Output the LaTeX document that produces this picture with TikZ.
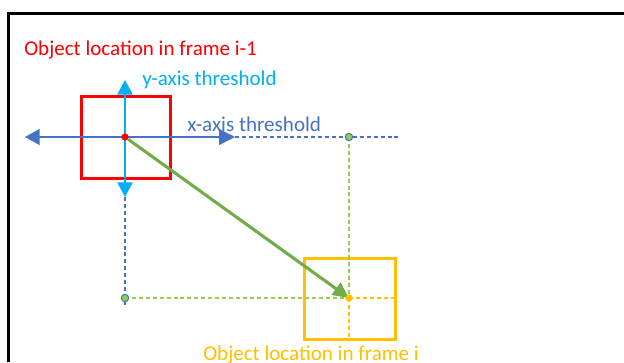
\documentclass[tikz,border=0pt]{standalone}
\usepackage{fontspec}
\setmainfont{Carlito}
\usetikzlibrary{arrows.meta}
\definecolor{objred}{HTML}{FF0000}
\definecolor{ylight}{HTML}{00B0F0}
\definecolor{xblue}{HTML}{4472C4}
\definecolor{mgreen}{HTML}{70AD47}
\definecolor{lgreen}{HTML}{92D050}
\definecolor{objyellow}{HTML}{FFC000}
\tikzset{
  label text/.style={font=\fontsize{15.8}{18}\selectfont, inner sep=0pt, anchor=base west},
  guide/.style={line width=0.8pt, dash pattern=on 3pt off 2.2pt},
  pointdot/.style={circle, inner sep=0pt, minimum size=5.5pt},
  framebox/.style={line width=2.25pt, inner sep=0pt},
}
\begin{document}
\begin{tikzpicture}[x=0.75pt, y=-0.75pt]
\useasboundingbox (0,0) rectangle (624,362);
\fill[white] (0,0) rectangle (624,362);
% outer frame (top and left edges visible)
\draw[line width=2.25pt] (8.5,362) -- (8.5,13.5) -- (624,13.5);

% key positions
\coordinate (prev) at (125,137);
\coordinate (cur) at (349,298);
\coordinate (xl) at (25,137);
\coordinate (xr) at (235,137);
\coordinate (xend) at (398,137);
\coordinate (yt) at (125,80);
\coordinate (yb) at (125,197);
\coordinate (yend) at (125,307);

% object boxes
\node[framebox, draw=objred, minimum width=66.75pt, minimum height=61.5pt] (redbox) at (126,137.5) {};
\node[framebox, draw=objyellow, line width=1.95pt, minimum width=68.25pt, minimum height=60.75pt] (yelbox) at (350,299) {};

% projection guides
\draw[guide, xblue] (xr) -- (xend);
\draw[guide, xblue] (yb) -- (yend);
\draw[guide, lgreen] (125,298) -- (cur);
\draw[guide, lgreen] (349,137) -- (cur);
\draw[guide, objyellow] (cur) -- (yelbox.east |- cur);
\draw[guide, objyellow] (cur) -- (cur |- yelbox.south);
\draw[guide, objred] (redbox.west |- prev) -- (redbox.east |- prev);

% threshold arrows
\draw[xblue, line width=1.1pt, {Triangle[length=11pt,width=12pt]}-{Triangle[length=12pt,width=12pt]}] (xl) -- (xr);
\draw[ylight, line width=1.1pt, {Triangle[length=11pt,width=11.5pt]}-{Triangle[length=11pt,width=11.5pt]}] (yt) -- (yb);

% projected points
\node[pointdot, fill=lgreen, draw=xblue, line width=0.8pt] (px) at (349,137) {};
\node[pointdot, fill=lgreen, draw=xblue, line width=0.8pt] (py) at (125,298) {};
\node[pointdot, fill=objred] (pprev) at (prev) {};

% motion arrow
\draw[mgreen, line width=2.3pt, -{Triangle[length=12pt,width=11pt]}] (pprev) -- (cur);
\node[pointdot, fill=objyellow] (pcur) at (cur) {};

% labels
\node[label text, text=objred] (lprev) at (24,55) {Object location in frame i-1};
\node[label text, text=ylight] (ly) at (142,85) {y-axis threshold};
\node[label text, text=xblue] (lx) at (187,131) {x-axis threshold};
\node[label text, text=objyellow] (lcur) at (203,360) {Object location in frame i};
\end{tikzpicture}
\end{document}
